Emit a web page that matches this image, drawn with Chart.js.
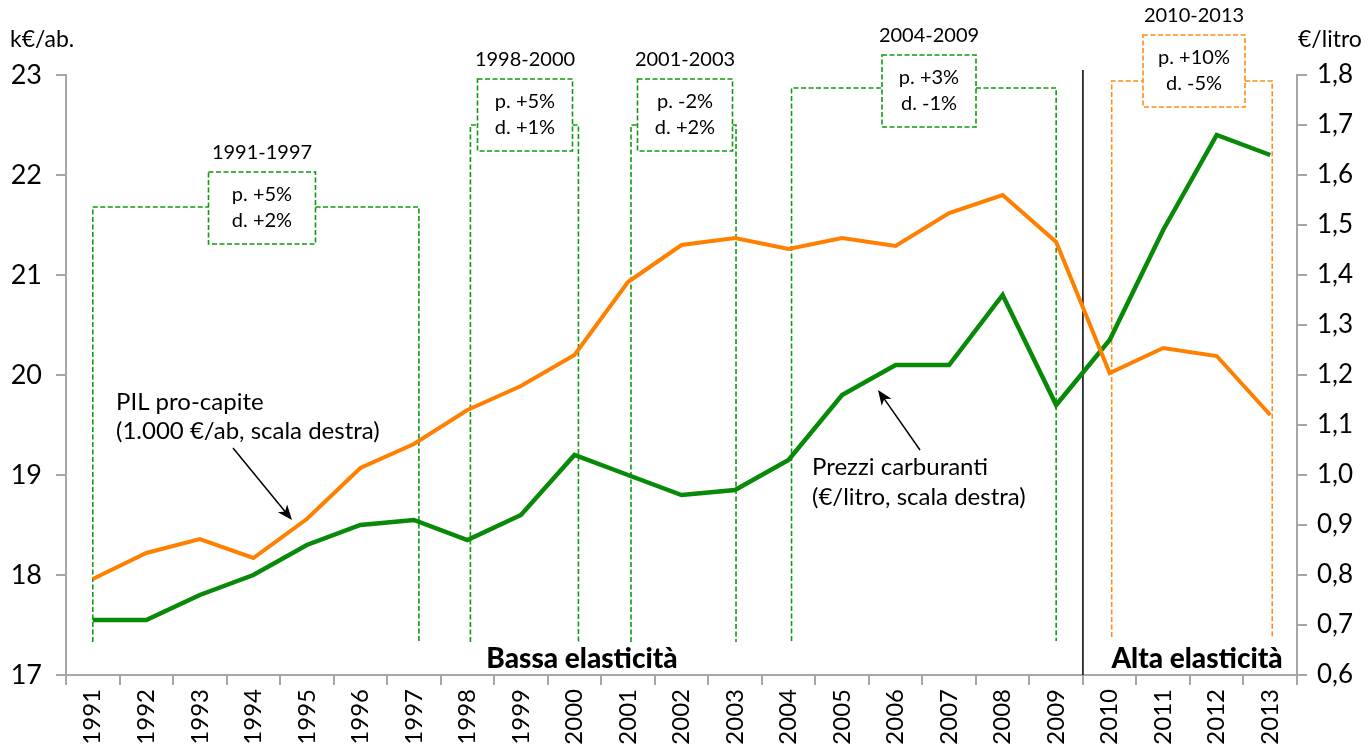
<!DOCTYPE html>
<html>
<head>
<meta charset="utf-8">
<script src="https://cdn.jsdelivr.net/npm/chart.js@4"></script>
<style>
  body { margin: 0; background: #fff; }
  canvas { display: block; }
</style>
</head>
<body>
<canvas id="chart" width="1365" height="753"></canvas>
<script>
const years = ['1991','1992','1993','1994','1995','1996','1997','1998','1999','2000','2001','2002',
               '2003','2004','2005','2006','2007','2008','2009','2010','2011','2012','2013'];
const pilProCapite = [17.96, 18.22, 18.36, 18.17, 18.56, 19.07, 19.31, 19.65, 19.89, 20.20, 20.93, 21.30,
                      21.37, 21.26, 21.37, 21.29, 21.62, 21.80, 21.33, 20.02, 20.27, 20.19, 19.60];
const prezziCarburanti = [0.71, 0.71, 0.76, 0.80, 0.86, 0.90, 0.91, 0.87, 0.92, 1.04, 1.00, 0.96,
                          0.97, 1.03, 1.16, 1.22, 1.22, 1.36, 1.14, 1.27, 1.49, 1.68, 1.64];
const leftTicks = [17, 23, 1];     // min, max, step
const rightTicks = [0.6, 1.8, 0.1];

const periodi = ['1991-1997', '1998-2000', '2001-2003', '2004-2009', '2010-2013'];
const varPrezzi = ['p. +5%', 'p. +5%', 'p. -2%', 'p. +3%', 'p. +10%'];
const varDomanda = ['d. +2%', 'd. +1%', 'd. +2%', 'd. -1%', 'd. -5%'];

const FONT = 'Lato, "Open Sans", sans-serif';
const GREEN = '#088a08';
const ORANGE = '#ff8000';
const AXIS = '#a6a6a6';

// layout of the dashed brackets (first/last year index, pixel offsets)
const brackets = [
  { from: 0,  to: 6,  dx1: 0, dx2: 5, top: 207, bot: 642, bx: 262, bw: 107, bt: 172, color: '#119a11' },
  { from: 7,  to: 9,  dx1: 3, dx2: 4, top: 125, bot: 642, bx: 525, bw: 95,  bt: 79,  color: '#119a11' },
  { from: 10, to: 12, dx1: 3, dx2: 1, top: 125, bot: 642, bx: 685, bw: 95,  bt: 79,  color: '#119a11' },
  { from: 13, to: 18, dx1: 3, dx2: 0, top: 88,  bot: 641, bx: 929, bw: 94,  bt: 55,  color: '#119a11' },
  { from: 19, to: 22, dx1: 2, dx2: 2, top: 81,  bot: 637, bx: 1194, bw: 102, bt: 35, color: '#ff8c1a' }
];

function arrow(ctx, x1, y1, x2, y2) {
  const a = Math.atan2(y2 - y1, x2 - x1);
  ctx.beginPath();
  ctx.moveTo(x1, y1);
  ctx.lineTo(x2 - 10 * Math.cos(a), y2 - 10 * Math.sin(a));
  ctx.stroke();
  ctx.beginPath();
  ctx.moveTo(x2, y2);
  ctx.lineTo(x2 - 15 * Math.cos(a) + 6 * Math.sin(a), y2 - 15 * Math.sin(a) - 6 * Math.cos(a));
  ctx.lineTo(x2 - 11 * Math.cos(a), y2 - 11 * Math.sin(a));
  ctx.lineTo(x2 - 15 * Math.cos(a) - 6 * Math.sin(a), y2 - 15 * Math.sin(a) + 6 * Math.cos(a));
  ctx.closePath();
  ctx.fill();
}

const annotations = {
  id: 'annotations',
  beforeDatasetsDraw(chart) {
    const ctx = chart.ctx, x = chart.scales.x, y = chart.scales.y;
    ctx.save();
    brackets.forEach(b => {
      const x1 = x.getPixelForValue(b.from) + b.dx1;
      const x2 = x.getPixelForValue(b.to) + b.dx2;
      ctx.strokeStyle = b.color;
      ctx.lineWidth = 1.6;
      ctx.setLineDash([5, 2.5]);
      ctx.beginPath();
      ctx.moveTo(x1, b.bot); ctx.lineTo(x1, b.top); ctx.lineTo(b.bx - b.bw / 2, b.top);
      ctx.moveTo(b.bx + b.bw / 2, b.top); ctx.lineTo(x2, b.top); ctx.lineTo(x2, b.bot);
      ctx.rect(b.bx - b.bw / 2, b.bt, b.bw, 72);
      ctx.stroke();
    });
    ctx.setLineDash([]);
    // separation between low and high elasticity
    const xs = (x.getPixelForValue(18) + x.getPixelForValue(19)) / 2;
    ctx.strokeStyle = '#000';
    ctx.lineWidth = 1.5;
    ctx.beginPath();
    ctx.moveTo(xs, y.getPixelForValue(23.05));
    ctx.lineTo(xs, y.bottom);
    ctx.stroke();
    ctx.restore();
  },
  afterDraw(chart) {
    const ctx = chart.ctx;
    ctx.save();
    ctx.fillStyle = '#000';
    ctx.textAlign = 'center';
    ctx.textBaseline = 'middle';
    ctx.font = '20px ' + FONT;
    brackets.forEach((b, i) => {
      ctx.fillText(periodi[i], b.bx, b.bt - 19);
      ctx.fillText(varPrezzi[i], b.bx, b.bt + 23);
      ctx.fillText(varDomanda[i], b.bx, b.bt + 49);
    });
    ctx.font = '900 28px ' + FONT;
    ctx.fillText('Bassa elasticità', 582, 659);
    ctx.fillText('Alta elasticità', 1197, 659);

    ctx.textAlign = 'left';
    ctx.font = '24px ' + FONT;
    ctx.fillText('PIL pro-capite', 116, 402);
    ctx.fillText('(1.000 €/ab, scala destra)', 116, 431);
    ctx.fillText('Prezzi carburanti', 812, 467);
    ctx.fillText('(€/litro, scala destra)', 812, 497);
    ctx.font = '23px ' + FONT;
    ctx.fillText('k€/ab.', 10, 40);
    ctx.fillText('€/litro', 1298, 40);

    ctx.strokeStyle = '#000';
    ctx.lineWidth = 1.5;
    arrow(ctx, 233, 448, 292, 520);
    arrow(ctx, 920, 450, 878, 390);
    ctx.restore();
  }
};

new Chart(document.getElementById('chart'), {
  type: 'line',
  data: {
    labels: years,
    datasets: [
      { label: 'PIL pro-capite', data: pilProCapite, yAxisID: 'y', borderColor: ORANGE,
        borderWidth: 4, pointRadius: 0, tension: 0 },
      { label: 'Prezzi carburanti', data: prezziCarburanti, yAxisID: 'y2', borderColor: GREEN,
        borderWidth: 4.5, pointRadius: 0, tension: 0 }
    ]
  },
  options: {
    responsive: false,
    animation: false,
    layout: { padding: { top: 75, left: 0, right: 0, bottom: 0 } },
    plugins: { legend: { display: false }, tooltip: { enabled: false } },
    scales: {
      x: {
        offset: true,
        grid: { offset: true, drawOnChartArea: false, tickLength: 10, color: AXIS, lineWidth: 2 },
        border: { color: AXIS, width: 2 },
        ticks: { autoSkip: false, minRotation: 90, maxRotation: 90, color: '#000', padding: 4,
                 font: { family: FONT, size: 24 } },
        afterFit: s => { s.height = 78; }
      },
      y: {
        position: 'left',
        min: leftTicks[0], max: leftTicks[1],
        grid: { drawOnChartArea: false, tickLength: 10, color: AXIS, lineWidth: 2 },
        border: { color: AXIS, width: 2 },
        ticks: { stepSize: leftTicks[2], color: '#000', padding: 14, font: { family: FONT, size: 27 } },
        afterFit: s => { s.width = 66; }
      },
      y2: {
        position: 'right',
        min: rightTicks[0], max: rightTicks[1],
        grid: { drawOnChartArea: false, tickLength: 10, color: AXIS, lineWidth: 2 },
        border: { color: AXIS, width: 2 },
        ticks: { stepSize: rightTicks[2], color: '#000', padding: 10, font: { family: FONT, size: 26 },
                 callback: v => v.toFixed(1).replace('.', ',') },
        afterFit: s => { s.width = 68; }
      }
    }
  },
  plugins: [annotations]
});
</script>
</body>
</html>
